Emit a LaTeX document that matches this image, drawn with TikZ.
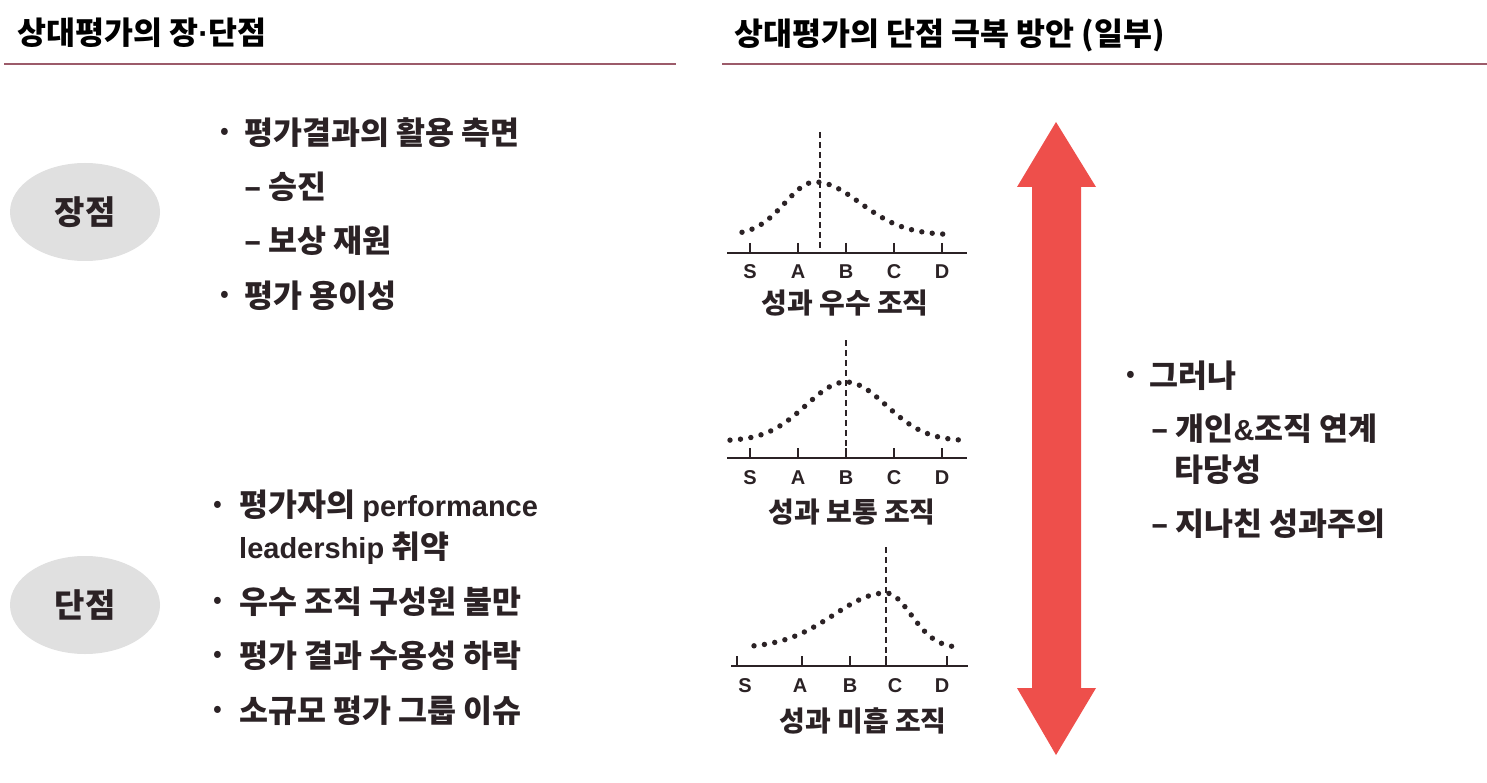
\documentclass[tikz,border=0pt]{standalone}
\usepackage{fontspec}
\usetikzlibrary{shapes.geometric}
\newfontfamily\cjk{Noto Sans CJK KR}
\newfontfamily\lat{Liberation Sans}
\newcommand\latx[1]{{\lat\bfseries\fontsize{29}{32}\selectfont #1}}
\definecolor{txt}{HTML}{2B2225}
\definecolor{rule}{HTML}{9C5B6A}
\definecolor{arrowred}{HTML}{EE4F4B}
\definecolor{blobgray}{HTML}{E0E0E0}
\begin{document}
\begin{tikzpicture}[x=1pt,y=-1pt,
  ttl/.style={anchor=west,inner sep=0,font=\cjk\bfseries\fontsize{31.5}{34}\selectfont,text=black},
  item/.style={anchor=west,inner sep=0,font=\cjk\bfseries\fontsize{31.5}{34}\selectfont,text=txt},
  bul/.style={anchor=center,inner sep=0,font=\cjk\bfseries\fontsize{22}{24}\selectfont,text=txt},
  blob/.style={ellipse,fill=blobgray,minimum width=150,minimum height=98,inner sep=0,font=\cjk\bfseries\fontsize{33}{36}\selectfont,text=txt},
  lbl/.style={inner sep=0,font=\lat\bfseries\fontsize{20}{22}\selectfont,text=txt},
  captext/.style={inner sep=0,font=\cjk\bfseries\fontsize{28}{30}\selectfont,text=txt},
  axis/.style={line width=2,draw=txt},
  vdash/.style={line width=1.6,draw=txt,dash pattern=on 6 off 4},
  dots/.style={line width=5.4,draw=txt,line cap=round,dash pattern=on 0 off 10.5}
]
\useasboundingbox (0,0) rectangle (1487,783);
\fill[white] (0,0) rectangle (1487,783);

% titles
\node[ttl] (t1) at (17,33) {상대평가의 장{\lat\bfseries ·}단점};
\node[ttl] (t2) at (734,35) {상대평가의 단점 극복 방안 (일부)};
\draw[rule,line width=1.6] (4,64) -- (676,64);
\draw[rule,line width=1.6] (722,64) -- (1487,64);

% left side
\node[blob] (adv) at (85,212) {장점};
\node[blob] (dis) at (85,605) {단점};

\node[bul] (b1) at (225,133) {•};
\node[item] (i1) at (244,133) {평가결과의 활용 측면};
\node[item] (i2) at (244,187) {– 승진};
\node[item] (i3) at (244,241) {– 보상 재원};
\node[bul] (b4) at (225,296) {•};
\node[item] (i4) at (244,296) {평가 용이성};

\node[bul] (b5) at (218,506) {•};
\node[item] (i5) at (239,506) {평가자의 \latx{performance}};
\node[item] (i6) at (239,548) {\latx{leadership} 취약};
\node[bul] (b7) at (218,602) {•};
\node[item] (i7) at (239,602) {우수 조직 구성원 불만};
\node[bul] (b8) at (218,656) {•};
\node[item] (i8) at (239,656) {평가 결과 수용성 하락};
\node[bul] (b9) at (218,711) {•};
\node[item] (i9) at (239,711) {소규모 평가 그룹 이슈};

% chart 1
\draw[axis] (727,253) -- (967,253);
\foreach \x in {750,798,846,894,942} \draw[axis] (\x,243) -- (\x,253);
\foreach \x/\l in {750/S,798/A,846/B,894/C,942/D} \node[lbl] at (\x,272) {\l};
\draw[vdash] (820,132) -- (820,253);
\draw[dots] plot[domain=742:815,samples=40] (\x,{235-53*exp(-((\x-815)/30)^2/2)})
  -- plot[domain=815:948,samples=60] (\x,{235-53*exp(-((\x-815)/45)^2/2)});
\node[captext] (c1) at (845,303) {성과 우수 조직};

% chart 2
\draw[axis] (727,458) -- (967,458);
\foreach \x in {750,798,846,894,942} \draw[axis] (\x,448) -- (\x,458);
\foreach \x/\l in {750/S,798/A,846/B,894/C,942/D} \node[lbl] at (\x,478) {\l};
\draw[vdash] (846,340) -- (846,458);
\draw[dots] plot[domain=730:962,samples=100] (\x,{441-59*exp(-((\x-846)/40)^2/2)});
\node[captext] (c2) at (852,512) {성과 보통 조직};

% chart 3
\draw[axis] (731,666) -- (968,666);
\foreach \x in {737,802,850,886,947} \draw[axis] (\x,656) -- (\x,666);
\foreach \x/\l in {745/S,800/A,850/B,895/C,942/D} \node[lbl] at (\x,686) {\l};
\draw[vdash] (886,547) -- (886,666);
\draw[dots] plot[domain=754:886,samples=60] (\x,{648-55*exp(-((\x-886)/52)^2/2)})
  -- plot[domain=886:958,samples=40] (\x,{648-55*exp(-((\x-886)/25)^2/2)});
\node[captext] (c3) at (863,721) {성과 미흡 조직};

% arrow
\fill[arrowred] (1056,122) -- (1096,187) -- (1081,187) -- (1081,688) -- (1096,688)
  -- (1056,755) -- (1017,688) -- (1032,688) -- (1032,187) -- (1017,187) -- cycle;

% right side
\node[bul] (b10) at (1131,376) {•};
\node[item] (i10) at (1149,376) {그러나};
\node[item] (i11) at (1151,429) {– 개인\latx{\&}조직 연계};
\node[item] (i12) at (1174,470) {타당성};
\node[item] (i13) at (1151,524) {– 지나친 성과주의};
\end{tikzpicture}
\end{document}
